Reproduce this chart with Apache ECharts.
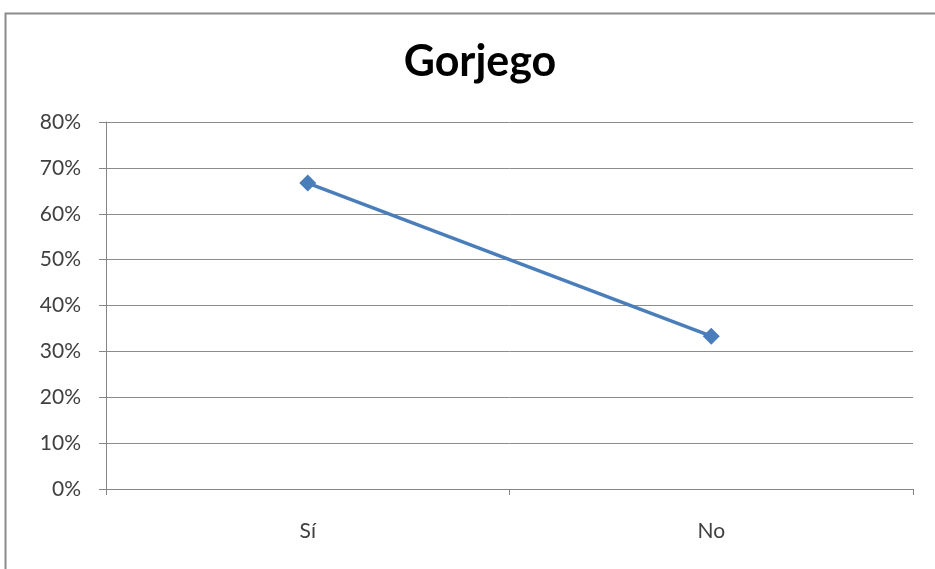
<!DOCTYPE html>
<html>
<head>
<meta charset="utf-8">
<script src="https://cdn.jsdelivr.net/npm/echarts@6/dist/echarts.min.js"></script>
<style>
    html, body { margin: 0; padding: 0; background: #fff; }
    #chart { width: 935px; height: 569px; }
</style>
</head>
<body>
<div id="chart"></div>
<script>
    // data
    var categories = ['Sí', 'No'];
    var values = [66.7, 33.3];
    var yTicks = [0, 10, 20, 30, 40, 50, 60, 70, 80];

    var myChart = echarts.init(document.getElementById('chart'));
    myChart.setOption({
        backgroundColor: '#fff',
        animation: false,
        graphic: [{
            type: 'rect',
            shape: { x: 5.5, y: 13.5, width: 960, height: 600 },
            style: { fill: 'none', stroke: '#8c8c8c', lineWidth: 2 },
            silent: true
        }],
        title: {
            text: 'Gorjego',
            left: 475,
            textAlign: 'center',
            top: 36,
            textStyle: {
                fontFamily: 'Lato',
                fontWeight: 'bold',
                fontSize: 43,
                color: '#000'
            }
        },
        grid: {
            left: 106,
            right: 22,
            top: 122,
            bottom: 80
        },
        xAxis: {
            type: 'category',
            data: categories,
            boundaryGap: true,
            axisLine: { lineStyle: { color: '#868686', width: 1 } },
            axisTick: { show: true, length: 6, lineStyle: { color: '#868686' } },
            axisLabel: {
                margin: 32,
                fontFamily: 'Lato',
                fontSize: 21,
                color: '#404040'
            },
            splitLine: { show: false }
        },
        yAxis: {
            type: 'value',
            min: yTicks[0],
            max: yTicks[yTicks.length - 1],
            interval: 10,
            axisLine: { show: true, lineStyle: { color: '#868686', width: 1 } },
            axisTick: { show: true, length: 7, lineStyle: { color: '#868686' } },
            axisLabel: {
                margin: 25,
                fontFamily: 'Lato',
                fontSize: 21,
                color: '#404040',
                formatter: '{value}%'
            },
            splitLine: { lineStyle: { color: '#8c8c8c', width: 1 } }
        },
        series: [{
            type: 'line',
            data: values,
            symbol: 'diamond',
            symbolSize: 17,
            lineStyle: { color: '#4a7ebb', width: 3.5 },
            itemStyle: { color: '#4a7ebb' }
        }]
    });
</script>
</body>
</html>
